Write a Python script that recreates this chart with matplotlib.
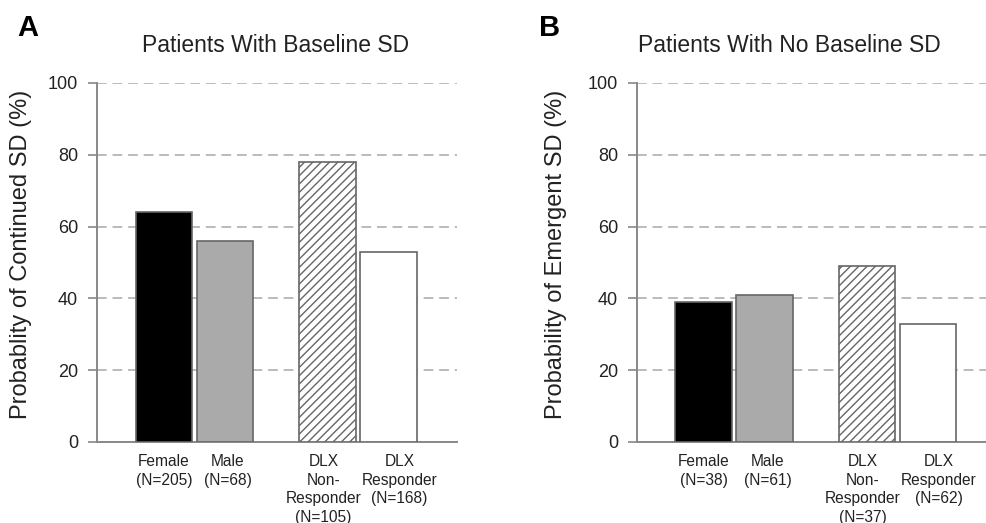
import matplotlib
matplotlib.use("Agg")
import matplotlib.pyplot as plt
import matplotlib.transforms as mtransforms

plt.rcParams['font.family'] = ['Liberation Sans', 'DejaVu Sans']
plt.rcParams['hatch.color'] = '#444444'
plt.rcParams['hatch.linewidth'] = 1.0

labels_a = ["Female\n(N=205)", "Male\n(N=68)", "DLX\nNon-\nResponder\n(N=105)", "DLX\nResponder\n(N=168)"]
values_a = [64, 56, 78, 53]
labels_b = ["Female\n(N=38)", "Male\n(N=61)", "DLX\nNon-\nResponder\n(N=37)", "DLX\nResponder\n(N=62)"]
values_b = [39, 41, 49, 33]
yticks = [0, 20, 40, 60, 80, 100]
positions = [0, 1, 2.68, 3.68]

fills = ['black', '#aaaaaa', 'white', 'white']
hatches = [None, None, '////', None]
label_shift_px = [0, 3, -4, 11]

fig = plt.figure(figsize=(9.87, 5.23), dpi=100)
W, H = 987, 523

def make_ax(left, right, xl, xr, values, labels, ylabel, ylabel_x, title, title_x, letter, letter_x):
    ax = fig.add_axes([left / W, (H - 442) / H, (right - left) / W, (442 - 83) / H])
    for p, v, fc, h in zip(positions, values, fills, hatches):
        ax.bar(p, v, width=0.92, color=fc, edgecolor='#666666', linewidth=1.2, hatch=h, zorder=3)
    ax.set_xlim(xl, xr)
    ax.set_ylim(0, 100)
    ax.set_yticks(yticks)
    ax.set_yticklabels([str(t) for t in yticks], fontsize=13, color='#222222')
    ax.set_xticks(positions)
    ax.set_xticklabels([])
    ax.tick_params(axis='x', length=0)
    base = ax.get_xaxis_transform()
    for p, lab, dx in zip(positions, labels, label_shift_px):
        tr = base + mtransforms.ScaledTranslation(dx / 100, -12 / 100, fig.dpi_scale_trans)
        ax.text(p, 0, lab, transform=tr, ha='center', va='top', multialignment='center',
                fontsize=11.2, color='#222222', linespacing=1.3)
    ax.tick_params(axis='y', length=6.5, width=1.2, color='#888888', pad=7)
    for t in [20, 40, 60, 80, 100]:
        ax.axhline(t, color='#bbbbbb', lw=1.4, ls=(0, (5, 3)), zorder=1)
    for s in ['top', 'right']:
        ax.spines[s].set_visible(False)
    for s in ['left', 'bottom']:
        ax.spines[s].set_color('#888888')
        ax.spines[s].set_linewidth(1.4)
    ax.set_ylabel(ylabel, fontsize=17, color='#222222', va='center', ha='center')
    ax.yaxis.set_label_coords((ylabel_x - left) / (right - left), (442 - 254) / (442 - 83))
    fig.text(title_x / W, 1 - 45 / H, title, fontsize=16.5, color='#222222', ha='center', va='center')
    fig.text(letter_x / W, 1 - 28 / H, letter, fontsize=21, fontweight='bold', ha='left', va='center')
    return ax

unit = 61.0
ax1 = make_ax(97, 457, (97 - 164) / unit, (457 - 164) / unit, values_a, labels_a,
              "Probablity of Continued SD (%)", 21, "Patients With Baseline SD", 276, "A", 17)
ax2 = make_ax(637, 987, (637 - 703.5) / unit, (987 - 703.5) / unit, values_b, labels_b,
              "Probability of Emergent SD (%)", 556, "Patients With No Baseline SD", 789, "B", 539)

fig.savefig("out.png", dpi=100)
